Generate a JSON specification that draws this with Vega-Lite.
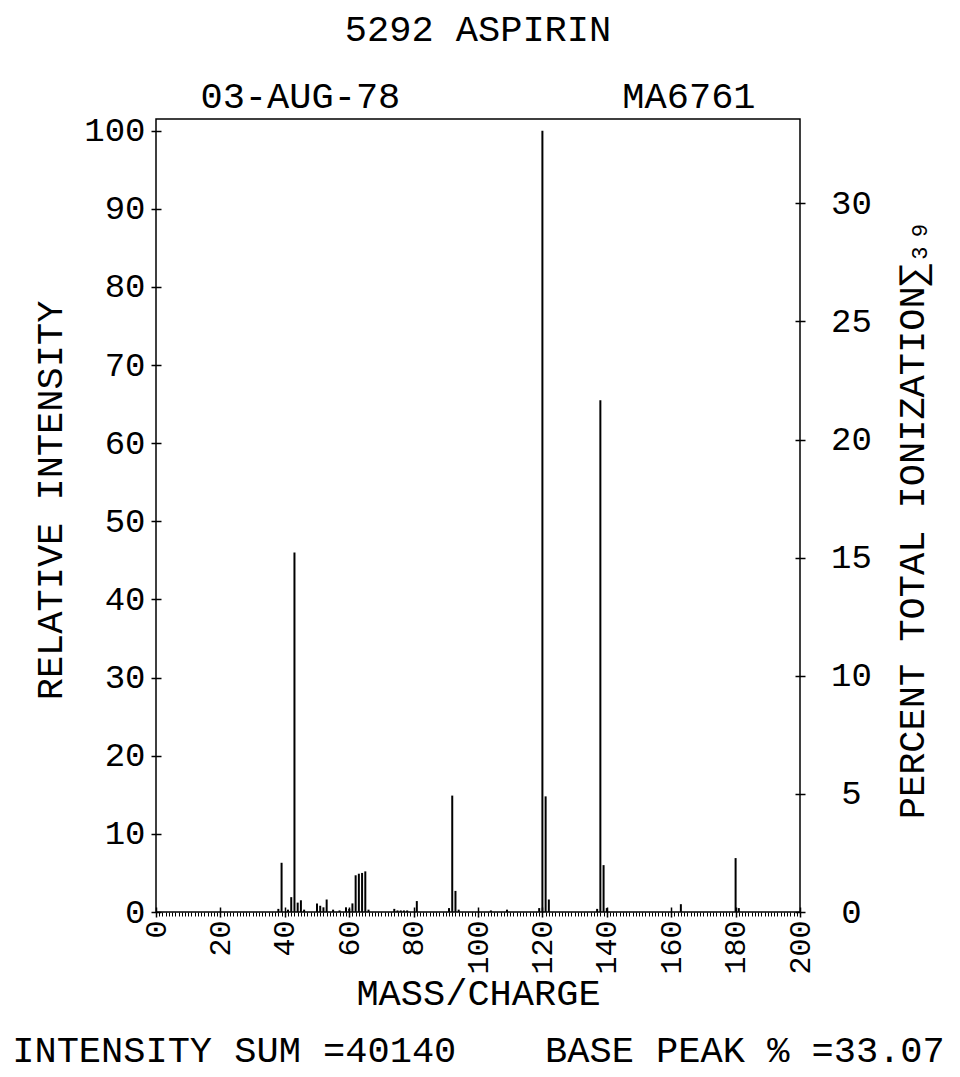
{
  "$schema": "https://vega.github.io/schema/vega-lite/v6.json",
  "width": 644,
  "height": 793,
  "autosize": "none",
  "padding": {"left": 156, "top": 119, "right": 160, "bottom": 165},
  "background": "white",
  "config": {
    "view": {"stroke": "black", "strokeWidth": 1.5},
    "font": "Liberation Mono",
    "axis": {
      "grid": false,
      "domainColor": "black",
      "tickColor": "black",
      "labelColor": "black",
      "titleColor": "black",
      "labelFont": "Liberation Mono",
      "titleFont": "Liberation Mono",
      "labelFontSize": 34,
      "titleFontSize": 37,
      "titleFontWeight": "normal",
      "tickWidth": 1.5,
      "labelFlush": false,
      "labelOverlap": false
    }
  },
  "title": {
    "text": "5292 ASPIRIN",
    "subtitle": "03-AUG-78\u00a0\u00a0\u00a0\u00a0\u00a0\u00a0\u00a0\u00a0\u00a0\u00a0MA6761",
    "anchor": "middle",
    "frame": "group",
    "font": "Liberation Mono",
    "fontSize": 37,
    "fontWeight": "normal",
    "color": "black",
    "subtitleFont": "Liberation Mono",
    "subtitleFontSize": 37,
    "subtitleColor": "black",
    "offset": -2,
    "subtitlePadding": 30
  },
  "datasets": {
    "peaks": [
      {"mz": 38, "intensity": 0.4},
      {"mz": 39, "intensity": 6.3},
      {"mz": 41, "intensity": 0.3},
      {"mz": 42, "intensity": 1.9},
      {"mz": 43, "intensity": 46.0},
      {"mz": 44, "intensity": 1.2},
      {"mz": 45, "intensity": 1.5},
      {"mz": 46, "intensity": 0.3},
      {"mz": 50, "intensity": 1.1},
      {"mz": 51, "intensity": 0.8},
      {"mz": 52, "intensity": 0.6},
      {"mz": 53, "intensity": 1.6},
      {"mz": 55, "intensity": 0.3},
      {"mz": 57, "intensity": 0.2},
      {"mz": 59, "intensity": 0.6},
      {"mz": 60, "intensity": 0.4},
      {"mz": 61, "intensity": 1.1},
      {"mz": 62, "intensity": 4.7},
      {"mz": 63, "intensity": 4.9},
      {"mz": 64, "intensity": 5.0},
      {"mz": 65, "intensity": 5.2},
      {"mz": 66, "intensity": 0.3},
      {"mz": 74, "intensity": 0.4},
      {"mz": 75, "intensity": 0.2},
      {"mz": 76, "intensity": 0.2},
      {"mz": 77, "intensity": 0.2},
      {"mz": 78, "intensity": 0.2},
      {"mz": 81, "intensity": 1.4},
      {"mz": 91, "intensity": 0.5},
      {"mz": 92, "intensity": 14.9},
      {"mz": 93, "intensity": 2.7},
      {"mz": 94, "intensity": 0.3},
      {"mz": 104, "intensity": 0.2},
      {"mz": 109, "intensity": 0.3},
      {"mz": 119, "intensity": 0.5},
      {"mz": 120, "intensity": 100},
      {"mz": 121, "intensity": 14.8},
      {"mz": 122, "intensity": 1.6},
      {"mz": 137, "intensity": 0.4},
      {"mz": 138, "intensity": 65.5},
      {"mz": 139, "intensity": 6.0},
      {"mz": 140, "intensity": 0.5},
      {"mz": 163, "intensity": 1.0},
      {"mz": 180, "intensity": 6.9},
      {"mz": 181, "intensity": 0.5}
    ]
  },
  "layer": [
    {
      "data": {"name": "peaks"},
      "mark": {"type": "rule", "strokeWidth": 2, "color": "black"},
      "encoding": {
        "x": {
          "field": "mz",
          "type": "quantitative",
          "scale": {"domain": [0, 200], "nice": false, "zero": true},
          "axis": {
            "orient": "bottom",
            "values": [0, 20, 40, 60, 80, 100, 120, 140, 160, 180, 200],
            "format": "d",
            "offset": -5,
            "tickSize": 10,
            "domain": false,
            "labelAngle": 270,
            "labelAlign": "right",
            "labelBaseline": "middle",
            "labelPadding": 3,
            "labelFontSize": 30,
            "title": "MASS/CHARGE",
            "titleY": 86,
            "titleBaseline": "middle"
          }
        },
        "y": {
          "field": "intensity",
          "type": "quantitative",
          "scale": {"domain": [0, 101.5], "nice": false},
          "axis": {
            "orient": "left",
            "values": [0, 10, 20, 30, 40, 50, 60, 70, 80, 90, 100],
            "offset": -5,
            "tickSize": 10,
            "domain": false,
            "labelPadding": 6,
            "title": "RELATIVE INTENSITY",
            "titleAngle": 270,
            "titleX": -111,
            "titleY": 381,
            "titleAlign": "center",
            "titleBaseline": "middle"
          }
        },
        "y2": {"datum": 0}
      }
    },
    {
      "mark": {"type": "point", "opacity": 0},
      "encoding": {
        "x": {
          "datum": 0,
          "type": "quantitative",
          "scale": {"domain": [0, 200], "nice": false, "zero": true},
          "axis": {
            "orient": "bottom",
            "values": [0,1,2,3,4,5,6,7,8,9,10,11,12,13,14,15,16,17,18,19,20,21,22,23,24,25,26,27,28,29,30,31,32,33,34,35,36,37,38,39,40,41,42,43,44,45,46,47,48,49,50,51,52,53,54,55,56,57,58,59,60,61,62,63,64,65,66,67,68,69,70,71,72,73,74,75,76,77,78,79,80,81,82,83,84,85,86,87,88,89,90,91,92,93,94,95,96,97,98,99,100,101,102,103,104,105,106,107,108,109,110,111,112,113,114,115,116,117,118,119,120,121,122,123,124,125,126,127,128,129,130,131,132,133,134,135,136,137,138,139,140,141,142,143,144,145,146,147,148,149,150,151,152,153,154,155,156,157,158,159,160,161,162,163,164,165,166,167,168,169,170,171,172,173,174,175,176,177,178,179,180,181,182,183,184,185,186,187,188,189,190,191,192,193,194,195,196,197,198,199,200],
            "tickSize": 4,
            "tickWidth": 1,
            "labels": false,
            "domain": false,
            "title": "INTENSITY SUM =40140\u00a0\u00a0\u00a0\u00a0BASE PEAK % =33.07",
            "titleY": 138,
            "titleBaseline": "middle"
          }
        },
        "y": {
          "datum": 0,
          "type": "quantitative",
          "scale": {"domain": [0, 101.5], "nice": false},
          "axis": null
        }
      }
    },
    {
      "mark": {"type": "point", "opacity": 0},
      "encoding": {
        "y": {
          "datum": 0,
          "type": "quantitative",
          "scale": {"domain": [0, 33.57], "nice": false},
          "axis": {
            "orient": "right",
            "values": [0, 5, 10, 15, 20, 25, 30],
            "offset": -5,
            "tickSize": 10,
            "domain": false,
            "labelAlign": "center",
            "labelPadding": 46,
            "title": "PERCENT TOTAL IONIZATION\u2211\u2083\u2089",
            "titleAngle": 270,
            "titleX": 117,
            "titleY": 400,
            "titleAlign": "center",
            "titleBaseline": "middle"
          }
        }
      }
    }
  ],
  "resolve": {
    "scale": {"y": "independent"},
    "axis": {"x": "independent", "y": "independent"}
  }
}
